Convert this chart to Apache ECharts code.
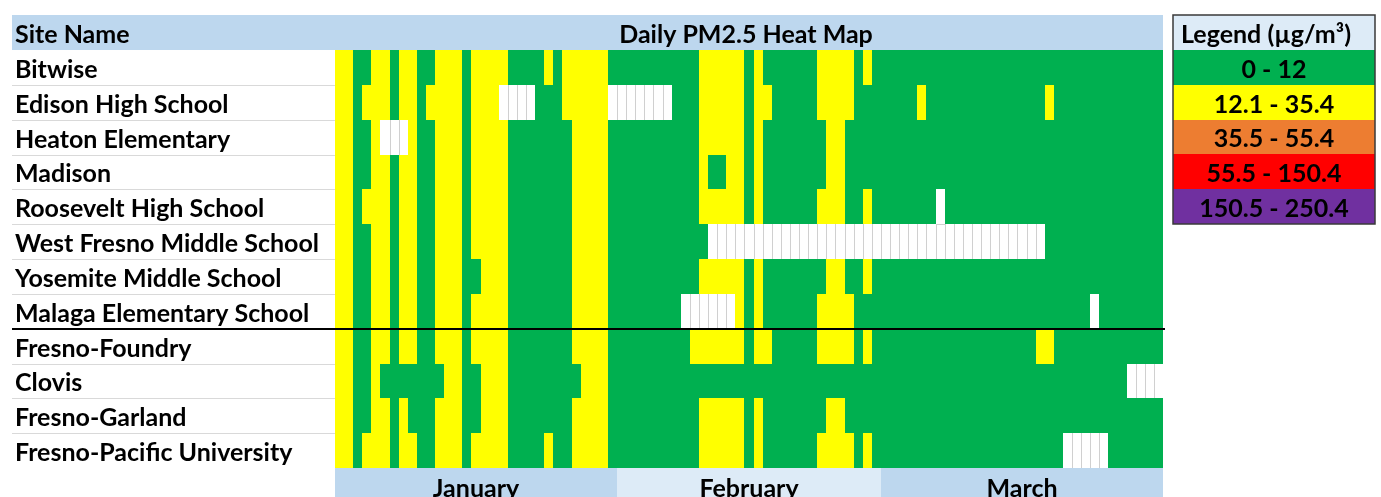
<!DOCTYPE html>
<html>
<head>
<meta charset="utf-8">
<script src="https://cdn.jsdelivr.net/npm/echarts@6/dist/echarts.min.js"></script>
<style>
html,body{margin:0;padding:0;background:#ffffff;}
#chart{width:1381px;height:497px;}
</style>
</head>
<body>
<div id="chart"></div>
<script>
// ---------------- data ----------------
const siteHeader = 'Site Name';
const chartTitle = 'Daily PM2.5 Heat Map';
const sites = [
  'Bitwise', 'Edison High School', 'Heaton Elementary', 'Madison',
  'Roosevelt High School', 'West Fresno Middle School', 'Yosemite Middle School',
  'Malaga Elementary School', 'Fresno-Foundry', 'Clovis', 'Fresno-Garland',
  'Fresno-Pacific University'
];
const separatorBefore = 'Fresno-Foundry';
const months = ['January', 'February', 'March'];
const monthDays = [31, 29, 31];
// Daily PM2.5 category per site, one letter per day (Jan 1 .. Mar 31)
// G = 0-12, Y = 12.1-35.4, O = 35.5-55.4, R = 55.5-150.4, P = 150.5-250.4, W = no data
const dailyCategory = [
  'YYGGYYGYYG GYYYGYYYYG GGGYGYYYYY GGGGGGGGGG YYYYYGYGGG GGGYYYYGYG GGGGGGGGGG GGGGGGGGGG GGGGGGGGGG G',
  'YYGYYYGYYG YYYYGYYYWW WWGGGYYYYY WWWWWWWGGG YYYYYGYYGG GGGYYYYGGG GGGGYGGGGG GGGGGGGGYG GGGGGGGGGG G',
  'YYGGYWWWYG GYYYGYYYYG GGGGGGYYYY GGGGGGGGGG YYYYYGYGGG GGGGYYGGGG GGGGGGGGGG GGGGGGGGGG GGGGGGGGGG G',
  'YYGGYYGYYG GYYYGYYYYG GGGGGGYYYY GGGGGGGGGG YGGYYGYGGG GGGGYYGGGG GGGGGGGGGG GGGGGGGGGG GGGGGGGGGG G',
  'YYGYYYGYYG GYYYGYYYYG GGGGGGYYYY GGGGGGGGGG YYYYYGYGGG GGGYYYGGYG GGGGGGWGGG GGGGGGGGGG GGGGGGGGGG G',
  'YYGGYYGYYG GYYYGYYYYG GGGGGGYYYY GGGGGGGGGG GWWWWWWWWW WWWWWWWWWW WWWWWWWWWW WWWWWWWWGG GGGGGGGGGG G',
  'YYGGYYGYYG GYYYGGYYYG GGGGGGYYYY GGGGGGGGGG YYYYYGYGGG GGGGYYGGYG GGGGGGGGGG GGGGGGGGGG GGGGGGGGGG G',
  'YYGGYYGYYG GYYYGYYYYG GGGGGGYYYY GGGGGGGGWW WWWWYGYGGG GGGYYYYGGG GGGGGGGGGG GGGGGGGGGG GGGWGGGGGG G',
  'YYGGYYGYYG GYYYGYYYYG GGGGGGYYYY GGGGGGGGGY YYYYYGYYGG GGGYYYYGYG GGGGGGGGGG GGGGGGGYYG GGGGGGGGGG G',
  'YYGGYGGGGG GGYYGGYYYG GGGGGGGYYY GGGGGGGGGG GGGGGGGGGG GGGGGGGGGG GGGGGGGGGG GGGGGGGGGG GGGGGGGWWW W',
  'YYGGYYGYGG GYYYGGYYYG GGGGGGYYYY GGGGGGGGGG YYYYYGYGGG GGGGYYGGGG GGGGGGGGGG GGGGGGGGGG GGGGGGGGGG G',
  'YYGYYYGYYG GYYYGYYYYG GGGYGGYYYY GGGGGGGGGG YYYYYGYGGG GGGYYYYGYG GGGGGGGGGG GGGGGGGGGG WWWWWGGGGG G'
];
const legendTitle = 'Legend (µg/m³)';
const legendRanges = ['0 - 12', '12.1 - 35.4', '35.5 - 55.4', '55.5 - 150.4', '150.5 - 250.4'];
const legendCodes = ['G', 'Y', 'O', 'R', 'P'];

// ---------------- styling ----------------
const codeColors = { W: '#FFFFFF', G: '#00B050', Y: '#FFFF00', O: '#ED7D31', R: '#FF0000', P: '#7030A0' };
const codeList = ['W', 'G', 'Y', 'O', 'R', 'P'];
const FONT = 'Lato';
const FS = 25;
const headerBlue = '#BDD7EE';
const lightBlue = '#DDEBF7';

// ---------------- build ----------------
const cells = dailyCategory.map(r => r.replace(/ /g, '').split(''));
const dayLabels = [];
months.forEach((m, mi) => { for (let d = 1; d <= monthDays[mi]; d++) dayLabels.push(m.slice(0, 3) + ' ' + d); });
const cellData = [];
cells.forEach((row, s) => row.forEach((c, d) => cellData.push([d, s, codeList.indexOf(c)])));

const monthData = [];
let acc = 0;
monthDays.forEach((n, i) => { monthData.push([acc, acc + n, i, 0]); acc += n; });

const legendRows = [legendTitle].concat(legendRanges);
const legendData = legendRows.map((r, i) => [0, i, i]);

function snap(v) { return Math.round(v); }

function renderCell(params, api) {
  const d = api.value(0), s = api.value(1), code = codeList[api.value(2)];
  const c = api.coord([d, s]);
  const sz = api.size([1, 1]);
  const x0 = snap(c[0] - sz[0] / 2), x1 = snap(c[0] + sz[0] / 2);
  const y0 = snap(c[1] - sz[1] / 2), y1 = snap(c[1] + sz[1] / 2);
  const children = [{
    type: 'rect', shape: { x: x0, y: y0, width: x1 - x0, height: y1 - y0 },
    style: { fill: codeColors[code] }
  }];
  if (code === 'W') {
    if (d > 0 && cells[s][d - 1] === 'W') {
      children.push({ type: 'line', shape: { x1: x0 + 0.5, y1: y0, x2: x0 + 0.5, y2: y1 },
        style: { stroke: '#D0D0D0', lineWidth: 1 } });
    }
    if (s > 0 && cells[s - 1][d] === 'W') {
      children.push({ type: 'line', shape: { x1: x0, y1: y0 + 0.5, x2: x1, y2: y0 + 0.5 },
        style: { stroke: '#D0D0D0', lineWidth: 1 } });
    }
  }
  return { type: 'group', children };
}

function renderRowLines(params, api) {
  const s = api.value(1);
  if (s === 0) return { type: 'group', children: [] };
  const c = api.coord([0, s]);
  const sz = api.size([1, 1]);
  const y = snap(c[1] - sz[1] / 2);
  const cs = params.coordSys;
  if (sites[s] === separatorBefore) {
    return { type: 'line', shape: { x1: 12, y1: y, x2: cs.x + cs.width + 2, y2: y },
      style: { stroke: '#000000', lineWidth: 2 }, z2: 10 };
  }
  return { type: 'line', shape: { x1: 12, y1: y + 0.5, x2: cs.x, y2: y + 0.5 },
    style: { stroke: '#D9D9D9', lineWidth: 1 } };
}

function renderLegend(params, api) {
  const i = api.value(2);
  const c = api.coord([0, i]);
  const sz = api.size([1, 1]);
  const x0 = snap(c[0] - sz[0] / 2), x1 = snap(c[0] + sz[0] / 2);
  const y0 = snap(c[1] - sz[1] / 2), y1 = snap(c[1] + sz[1] / 2);
  const fill = i === 0 ? lightBlue : codeColors[legendCodes[i - 1]];
  return {
    type: 'group',
    children: [
      { type: 'rect', shape: { x: x0, y: y0, width: x1 - x0, height: y1 - y0 }, style: { fill } },
      { type: 'text', style: { text: legendRows[i], x: (x0 + x1) / 2 + (i === 0 ? -8 : 0), y: (y0 + y1) / 2 + 2,
        align: 'center', verticalAlign: 'middle', fontFamily: FONT, fontWeight: 'bold', fontSize: FS, fill: '#000' } }
    ]
  };
}

function renderLegendFrame(params, api) {
  const cs = params.coordSys;
  return { type: 'rect', shape: { x: cs.x, y: cs.y, width: cs.width, height: cs.height },
    style: { fill: 'none', stroke: '#3A3A3A', lineWidth: 1.5 } };
}

function renderMonth(params, api) {
  const a = api.coord([api.value(0), 1]);
  const b = api.coord([api.value(1), 0]);
  const i = api.value(2);
  const x0 = snap(a[0]), x1 = snap(b[0]);
  return {
    type: 'group',
    children: [
      { type: 'rect', shape: { x: x0, y: a[1], width: x1 - x0, height: b[1] - a[1] },
        style: { fill: i === 1 ? lightBlue : headerBlue } },
      { type: 'text', style: { text: months[i], x: (x0 + x1) / 2, y: a[1] + 21,
        align: 'center', verticalAlign: 'middle', fontFamily: FONT, fontWeight: 'bold', fontSize: FS, fill: '#000' } }
    ]
  };
}

const chart = echarts.init(document.getElementById('chart'), null, { renderer: 'canvas' });
chart.setOption({
  animation: false,
  backgroundColor: '#ffffff',
  graphic: [
    { type: 'rect', left: 12, top: 15, shape: { width: 1151, height: 35 }, style: { fill: headerBlue }, z: -10 },
    { type: 'text', x: 15, y: 35, style: { text: siteHeader, verticalAlign: 'middle',
      fontFamily: FONT, fontWeight: 'bold', fontSize: FS, fill: '#000' } },
    { type: 'text', x: 746, y: 35, style: { text: chartTitle, align: 'center', verticalAlign: 'middle',
      fontFamily: FONT, fontWeight: 'bold', fontSize: FS, fill: '#000' } }
  ],
  grid: [
    { left: 335, top: 50, width: 828, height: 418 },
    { left: 1173, top: 15, width: 202, height: 209 },
    { left: 335, top: 468, width: 828, height: 40 }
  ],
  xAxis: [
    { gridIndex: 0, type: 'category', data: dayLabels, show: false },
    { gridIndex: 1, type: 'category', data: [''], show: false },
    { gridIndex: 2, type: 'value', min: 0, max: acc, show: false }
  ],
  yAxis: [
    { gridIndex: 0, type: 'category', data: sites, inverse: true,
      axisLine: { show: false }, axisTick: { show: false }, splitLine: { show: false },
      axisLabel: { margin: 320, align: 'left',
        formatter: v => '{s|' + v + '}',
        rich: { s: { padding: [5, 0, 0, 0], fontFamily: FONT, fontWeight: 'bold', fontSize: FS, color: '#000' } },
        fontFamily: FONT, fontWeight: 'bold', fontSize: FS, color: '#000' } },
    { gridIndex: 1, type: 'category', data: legendRows, inverse: true, show: false },
    { gridIndex: 2, type: 'value', min: 0, max: 1, show: false }
  ],
  series: [
    { type: 'custom', name: 'PM2.5', xAxisIndex: 0, yAxisIndex: 0, data: cellData,
      dimensions: ['day', 'site', 'cat'], encode: { x: 'day', y: 'site' },
      renderItem: renderCell, progressive: 0, clip: false, silent: true },
    { type: 'custom', name: 'rows', xAxisIndex: 0, yAxisIndex: 0, data: sites.map((s, i) => [0, i]),
      encode: { x: 0, y: 1 }, renderItem: renderRowLines, clip: false, silent: true, z: 5 },
    { type: 'custom', name: 'legend', xAxisIndex: 1, yAxisIndex: 1, data: legendData,
      encode: { x: 0, y: 1 }, renderItem: renderLegend, clip: false, silent: true },
    { type: 'custom', name: 'legendFrame', xAxisIndex: 1, yAxisIndex: 1, data: [[0, 0]],
      encode: { x: 0, y: 1 }, renderItem: renderLegendFrame, clip: false, silent: true, z: 6 },
    { type: 'custom', name: 'months', xAxisIndex: 2, yAxisIndex: 2, data: monthData,
      encode: { x: [0, 1], y: 3 }, renderItem: renderMonth, clip: false, silent: true }
  ]
});
</script>
</body>
</html>
